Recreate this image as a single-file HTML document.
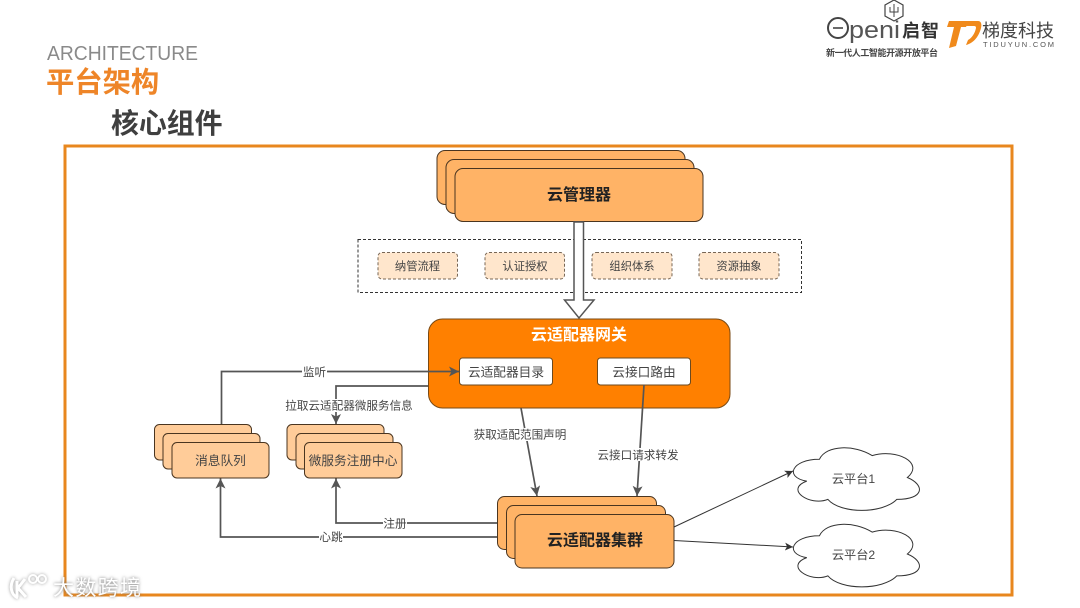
<!DOCTYPE html>
<html><head><meta charset="utf-8"><style>
html,body{margin:0;padding:0;background:#fff}
svg{display:block}
text{font-family:"Liberation Sans","Noto Sans CJK SC",sans-serif}
.c{text-anchor:middle;fill:#444;font-size:11.3px}
.l{text-anchor:middle;fill:#444;font-size:11.6px}
.cl{text-anchor:middle;fill:#444;font-size:12.2px}
.bg{fill:#fff}
</style></head><body>
<svg width="1080" height="608" viewBox="0 0 1080 608" xmlns="http://www.w3.org/2000/svg">
<defs>
<marker id="a" markerWidth="12" markerHeight="12" refX="10" refY="5" orient="auto" markerUnits="userSpaceOnUse"><path d="M0 0L10 5L0 10L2.5 5Z" fill="#555"/></marker>
<marker id="b" markerWidth="10" markerHeight="10" refX="8" refY="4" orient="auto" markerUnits="userSpaceOnUse"><path d="M0 0L8 4L0 8L2 4Z" fill="#333"/></marker>
<path id="cloud" transform="translate(793 0) scale(.97 1) translate(-793 0)" d="M820.25 459.25C791.25 459.25 784 477.5 807.2 481.15C784 489.2 810.1 506.7 829 499.4C842 514 885.5 514 900 499.4C929 499.4 929 484.8 910.9 477.5C929 462.9 900 448.3 874.6 455.6C856.5 444.65 827.5 444.65 820.25 459.25Z"/>
</defs>

<text x="47" y="60" font-size="20" fill="#8a8a8a" textLength="151" lengthAdjust="spacingAndGlyphs">ARCHITECTURE</text>
<text x="46" y="92" font-size="28.300" font-weight="700" fill="#ee8528">平台架构</text>
<text x="111" y="133" font-size="27.900" font-weight="700" fill="#3f3f3f">核心组件</text>

<rect x="65" y="146" width="947" height="449" fill="#fff" stroke="#e8871e" stroke-width="3"/>

<!-- logos -->
<g fill="none" stroke="#444">
<circle cx="838" cy="28" r="10" stroke-width="2"/><path d="M833 28h10" stroke-width="1.600"/>
<path d="M885 5l9-5 9 5v11l-9 5-9-5z" stroke-width="1.200"/>
<path d="M894 4v13M890 7v5h8V7" stroke-width="1"/>
</g>
<text x="849" y="38" font-size="24" fill="#555" textLength="51" lengthAdjust="spacingAndGlyphs">peni</text>
<text x="902" y="37" font-size="18" font-weight="700" fill="#333" textLength="37">启智</text>
<text x="826" y="56" font-size="9" font-weight="700" fill="#444" textLength="112">新一代人工智能开源开放平台</text>
<path d="M949 21h20l-3 6h-5l-5 19-7 2 5-21h-7zM968 21h10c3 0 4 3 3 7-2 8-7 15-15 17l2-5c4-2 7-7 8-12 0-2-1-2-3-2h-7z" fill="#f08a1c"/>
<text x="982" y="37" font-size="18" fill="#444" textLength="72">梯度科技</text>
<text x="983" y="47" font-size="7.500" fill="#555" textLength="71">TIDUYUN.COM</text>

<!-- Cloud manager -->
<g fill="#ffb366" stroke="#4a3520" stroke-width="1">
<rect x="437" y="150.500" width="248" height="54" rx="8"/>
<rect x="446" y="159.500" width="248" height="54" rx="8"/>
<rect x="455" y="168.500" width="248" height="53" rx="8"/>
</g>
<text x="579" y="200" font-size="16" font-weight="700" fill="#222" text-anchor="middle">云管理器</text>

<!-- dashed -->
<rect x="358" y="239.500" width="443.500" height="53" fill="#fff" stroke="#333" stroke-dasharray="3 2"/>
<g fill="#ffe6cc" stroke="#776655" stroke-dasharray="3 2">
<rect x="378" y="252.500" width="79.500" height="26.500" rx="4"/>
<rect x="485" y="252.500" width="79.500" height="26.500" rx="4"/>
<rect x="592" y="252.500" width="80" height="26.500" rx="4"/>
<rect x="699" y="252.500" width="80" height="26.500" rx="4"/>
</g>
<text class="c" x="417.500" y="270">纳管流程</text>
<text class="c" x="525" y="270">认证授权</text>
<text class="c" x="632" y="270">组织体系</text>
<text class="c" x="739" y="270">资源抽象</text>

<!-- hollow arrow -->
<path d="M574 222H583.500V300H594L579 318L564.500 300H574Z" fill="#fff" stroke="#555" stroke-width="1.500"/>

<!-- gateway -->
<rect x="428.500" y="319" width="301.500" height="89" rx="14" fill="#ff8000" stroke="#7a4a14" stroke-width="1"/>
<text x="579" y="340" font-size="16" font-weight="700" fill="#fff" text-anchor="middle">云适配器网关</text>
<rect x="459.500" y="358" width="93" height="27" rx="3" fill="#fff" stroke="#6b4a20"/>
<rect x="597.500" y="358" width="93" height="27" rx="3" fill="#fff" stroke="#6b4a20"/>
<text x="506" y="376.500" font-size="12.700" fill="#444" text-anchor="middle">云适配器目录</text>
<text x="644" y="376.500" font-size="12.700" fill="#444" text-anchor="middle">云接口路由</text>

<!-- small stacks -->
<g fill="#ffcc99" stroke="#4a3520" stroke-width="1">
<rect x="154.500" y="424.500" width="97" height="35.500" rx="5"/>
<rect x="163" y="433.500" width="97" height="35.500" rx="5"/>
<rect x="172" y="442.500" width="97" height="35.500" rx="5"/>
<rect x="287" y="424.500" width="97" height="35.500" rx="5"/>
<rect x="296" y="433.500" width="97" height="35.500" rx="5"/>
<rect x="304.500" y="442.500" width="97.500" height="35.500" rx="5"/>
</g>
<text x="220.500" y="465" font-size="12.700" fill="#444" text-anchor="middle">消息队列</text>
<text x="353" y="465" font-size="12.700" fill="#444" text-anchor="middle">微服务注册中心</text>

<!-- cluster -->
<g fill="#ffb366" stroke="#4a3520" stroke-width="1">
<rect x="497.500" y="496.500" width="159" height="53" rx="7"/>
<rect x="506.500" y="505.500" width="159" height="53" rx="7"/>
<rect x="515" y="514.500" width="159" height="53.500" rx="7"/>
</g>
<text x="595" y="545.500" font-size="16" font-weight="700" fill="#222" text-anchor="middle">云适配器集群</text>

<!-- connectors -->
<g fill="none" stroke="#555" stroke-width="1.700">
<path d="M221.500 424V371.500H459" marker-end="url(#a)"/>
<path d="M428 386H336V424" marker-end="url(#a)"/>
<path d="M497 537H220.500V478.500" marker-end="url(#a)"/>
<path d="M497 523H336V478.500" marker-end="url(#a)"/>
<path d="M521 408L537 496" marker-end="url(#a)"/>
<path d="M644 385L637 496" marker-end="url(#a)"/>
</g>
<g fill="none" stroke="#333" stroke-width="1">
<path d="M674 527L793 471" marker-end="url(#b)"/>
<path d="M674 540.500L793 547" marker-end="url(#b)"/>
</g>

<!-- connector labels -->
<rect class="bg" x="302" y="365" width="25" height="13"/>
<text class="l" x="314.500" y="376">监听</text>
<rect class="bg" x="285" y="399" width="128" height="13"/>
<text class="l" x="349" y="409.500">拉取云适配器微服务信息</text>
<rect class="bg" x="473" y="428" width="94" height="13"/>
<text class="l" x="520" y="438.500">获取适配范围声明</text>
<rect class="bg" x="597" y="448" width="82" height="13"/>
<text class="l" x="638" y="459">云接口请求转发</text>
<rect class="bg" x="383" y="517" width="24" height="13"/>
<text class="l" x="395" y="527.500">注册</text>
<rect class="bg" x="319" y="531" width="24" height="13"/>
<text class="l" x="331" y="541">心跳</text>

<!-- clouds -->
<use href="#cloud" fill="#fff" stroke="#333"/>
<use href="#cloud" y="76.500" fill="#fff" stroke="#333"/>
<text class="cl" x="853.500" y="483">云平台1</text>
<text class="cl" x="853.500" y="559">云平台2</text>

<!-- watermark -->
<g fill="none" stroke="#fff" stroke-width="3" opacity=".95" style="filter:drop-shadow(0 0 1.500px #999)">
<path d="M14 578C9 586 11 595 18 598M17 581V597M25 579L18 588L26 597"/>
<circle cx="33" cy="579" r="4" stroke-width="2"/><circle cx="42" cy="579" r="4" stroke-width="2"/>
</g>
<text x="53" y="595" font-size="21" fill="#fff" style="filter:drop-shadow(0 0 1.500px #777)" textLength="88">大数跨境</text>
</svg>
</body></html>
